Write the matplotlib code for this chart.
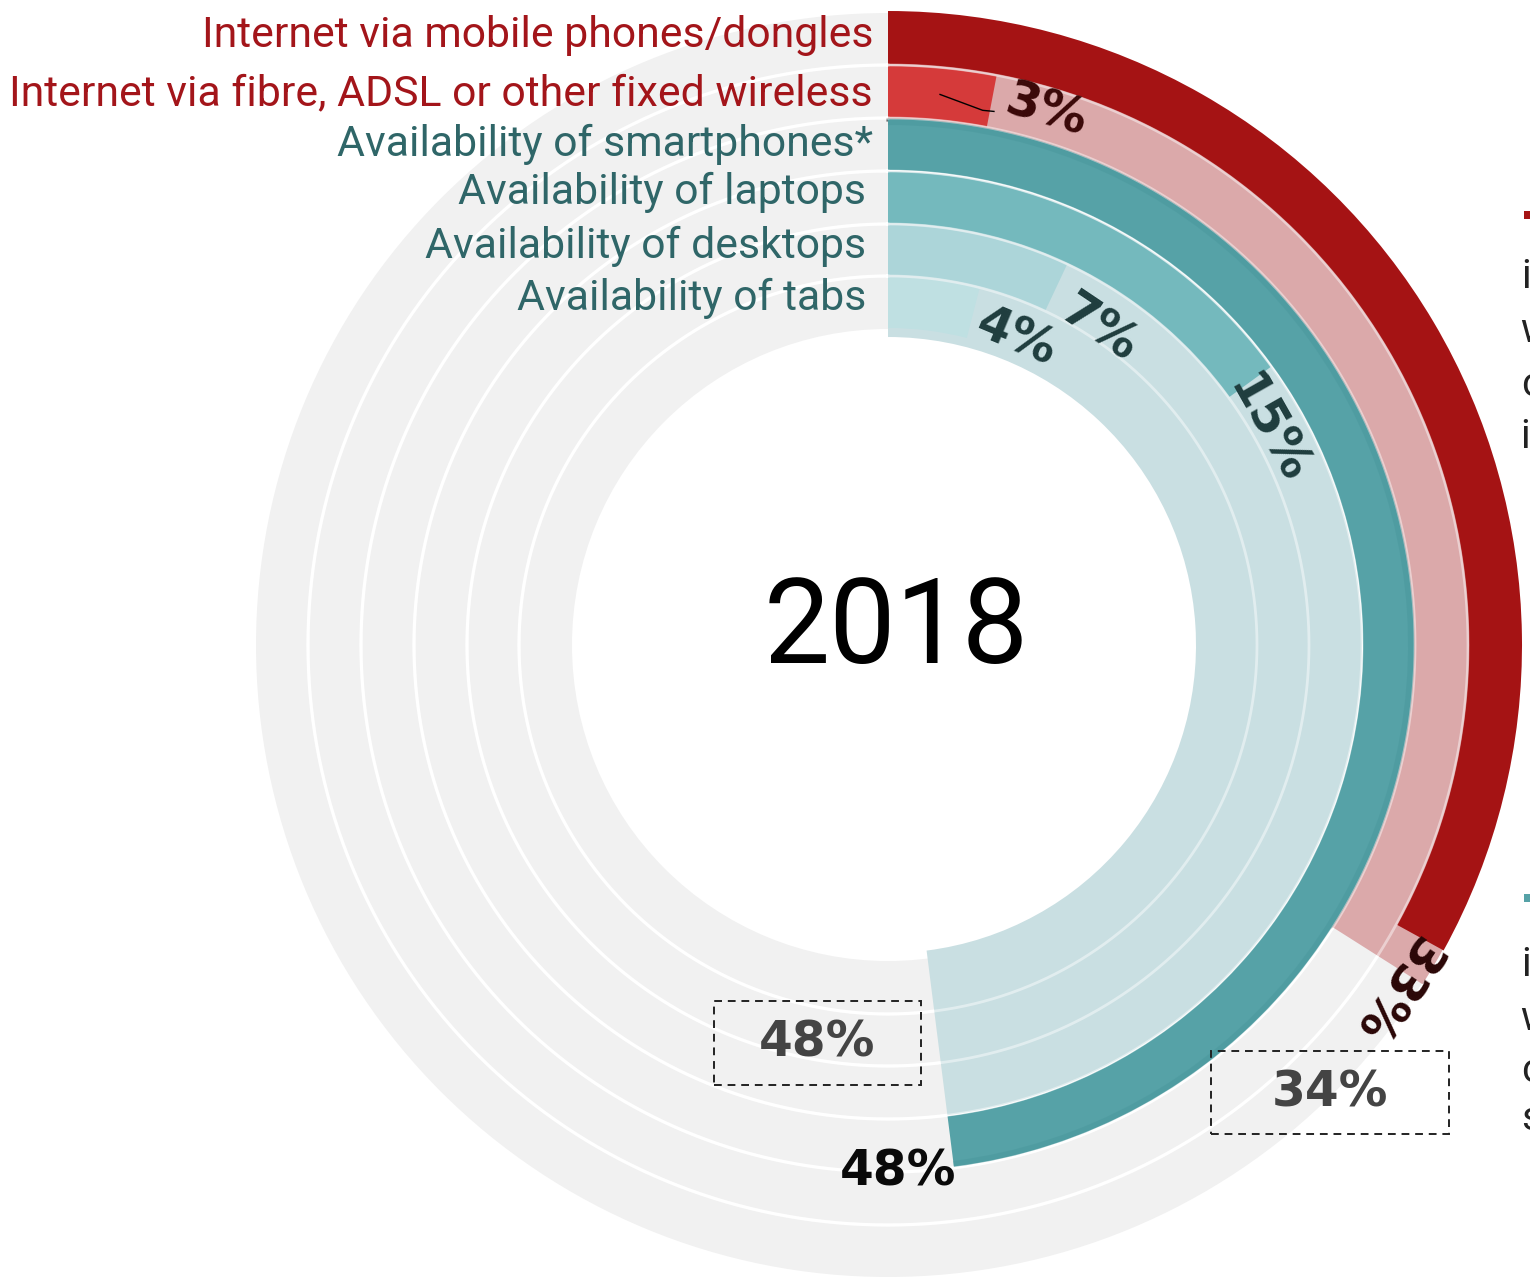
import numpy as np
import matplotlib
matplotlib.use("Agg")
import matplotlib.pyplot as plt
from matplotlib.patches import Rectangle
from matplotlib.transforms import IdentityTransform

# ---------------- data ----------------
year = "2018"
categories = [
    "Internet via mobile phones/dongles",
    "Internet via fibre, ADSL or other fixed wireless",
    "Availability of smartphones*",
    "Availability of laptops",
    "Availability of desktops",
    "Availability of tabs",
]
values = [33, 3, 48, 15, 7, 4]          # percent, 2018
ghost_internet = 34                      # comparison (dashed box) value, internet
ghost_device = 48                        # comparison (dashed box) value, devices

# ---------------- style ----------------
bar_colors = ["#A51314", "#D53A3A", "#56A2A7", "#74B9BD", "#ACD5D9", "#BFE0E2"]
label_colors = ["#A3151A", "#A3151A", "#2F6668", "#2F6668", "#2F6668", "#2F6668"]
value_colors = ["#2A0606", "#3A0808", "#0A0A0A", "#1F3D3E", "#1F3D3E", "#1F3D3E"]
ghost_internet_color = "#DBA9AA"
ghost_device_color = "#C9DFE2"
bg_grey = "#F1F1F1"

W, H = 1530, 1280
CX, CY = 888, 645          # centre in image pixels (from top)
RMAX = 650
edges = [316, 369, 421, 474, 527, 580, 632]   # ring boundaries (px)

fig = plt.figure(figsize=(W / 100, H / 100), dpi=100)
ax = fig.add_axes([(CX - RMAX) / W, (H - CY - RMAX) / H, 2 * RMAX / W, 2 * RMAX / H],
                  projection="polar")
ax.set_theta_offset(np.pi / 2)
ax.set_theta_direction(-1)
ax.set_ylim(0, RMAX)
ax.axis("off")


def th(p):
    return p / 100.0 * 2 * np.pi


full = np.linspace(0, 2 * np.pi, 1441)

# grey background rings
ax.bar(np.pi, edges[-1] - edges[0], width=2 * np.pi, bottom=edges[0],
       color=bg_grey, linewidth=0, zorder=1)
for r in edges[1:-1]:
    ax.plot(full, np.full_like(full, r), color="white", lw=2.3, zorder=2)

# comparison ("ghost") wedges
ax.bar(th(ghost_internet) / 2, 633 - 523, width=th(ghost_internet), bottom=523,
       color=ghost_internet_color, linewidth=0, zorder=3)
ax.bar(th(ghost_device) / 2, 474 - 308, width=th(ghost_device), bottom=308,
       color=ghost_device_color, linewidth=0, zorder=3)

# shadow line under the internet wedge
tt = np.linspace(0, th(ghost_internet), 400)
ax.plot(tt, np.full_like(tt, 525), color="#6A6F72", lw=2.3, zorder=4)

# actual bars
for i, (v, c) in enumerate(zip(values, bar_colors)):
    inner, outer = edges[5 - i], edges[6 - i]
    extra = 3 if i == 0 else 0
    ax.bar(th(v) / 2, outer - inner - 2 + extra, width=th(v), bottom=inner + 1,
           color=c, linewidth=0, zorder=5)

# slightly darker outer band on the smartphone bar
ax.bar(th(values[2]) / 2, 6, width=th(values[2]), bottom=edges[4] - 7,
       color="#4A979C", linewidth=0, zorder=5.5, alpha=0.5)

# faint ring separators over the coloured areas
for r in edges[1:-1]:
    ax.plot(full, np.full_like(full, r), color="white", lw=2.0, alpha=0.45, zorder=6)

# leader line for the small fibre value
ax.plot([th(values[1] * 0.5), th(values[1] * 0.93), th(values[1] * 1.04)],
        [553, 543, 544], color="black", lw=1.0, zorder=7)

# value labels (tangential)
val_font = dict(family="DejaVu Sans", fontweight="bold", fontsize=35)
label_pos = [(1.5, 613), (1.6, 557), None, (1.8, 437), (2.4, 380), (2.3, 333)]
for i, v in enumerate(values):
    if label_pos[i] is None:
        continue
    dp, r = label_pos[i]
    ang = (v + dp) * 3.6
    ax.text(th(v + dp), r, f"{v}%", rotation=-ang, rotation_mode="anchor",
            ha="center", va="center", color=value_colors[i], zorder=8, **val_font)

# smartphone label (horizontal)
ax.text(th(values[2] + 1.7), 527, f"{values[2]}%", ha="center", va="center",
        color=value_colors[2], zorder=8, **val_font)

# dashed comparison boxes
fig.canvas.draw()
for p, r, val, (bw, bh) in [(52.8, 404, ghost_device, (207, 84)),
                            (37.6, 629, ghost_internet, (238, 83))]:
    x, y = ax.transData.transform((th(p), r))
    rect = Rectangle((x - bw / 2, y - bh / 2), bw, bh, transform=IdentityTransform(),
                     fill=False, edgecolor="#222222", lw=1.4, ls=(0, (4, 3)), zorder=9)
    fig.patches.append(rect)
    ax.text(th(p), r, f"{val}%", ha="center", va="center", color="#444444",
            zorder=9, **val_font)

# category labels on the left
label_dy = [4, -2, 0, 5, 4, 4]
label_dx = [15, 15, 15, 22, 22, 22]
for i, cat in enumerate(categories):
    inner, outer = edges[5 - i], edges[6 - i]
    ax.annotate(cat, xy=(0, (inner + outer) / 2), xytext=(-label_dx[i], label_dy[i]),
                textcoords="offset pixels", ha="right", va="center",
                fontsize=30.8, family="Roboto", color=label_colors[i], zorder=10,
                annotation_clip=False)

# centre year
fig.text(896 / W, 1 - 630 / H, year, ha="center", va="center", fontsize=85,
         family="Roboto", color="black")

# legend texts on the right, cut off by the figure edge
fig.patches.append(Rectangle((1524, H - 219), 8, 8, transform=IdentityTransform(),
                             color="#A51314", lw=0))
fig.patches.append(Rectangle((1524, H - 902), 8, 8, transform=IdentityTransform(),
                             color="#56A2A7", lw=0))
right_red = ["individuals", "with internet", "connection", "in 2018"]
right_teal = ["individuals", "with access", "computers", "smartphones"]
for txt, yy in zip(right_red, [277, 331, 384, 436]):
    fig.text(1521 / W, 1 - yy / H, txt, ha="left", va="center", fontsize=29,
             family="Roboto", color="#222222")
for txt, yy in zip(right_teal, [965, 1018, 1070, 1118]):
    fig.text(1521 / W, 1 - yy / H, txt, ha="left", va="center", fontsize=29,
             family="Roboto", color="#222222")

fig.savefig("out.png", dpi=100)
